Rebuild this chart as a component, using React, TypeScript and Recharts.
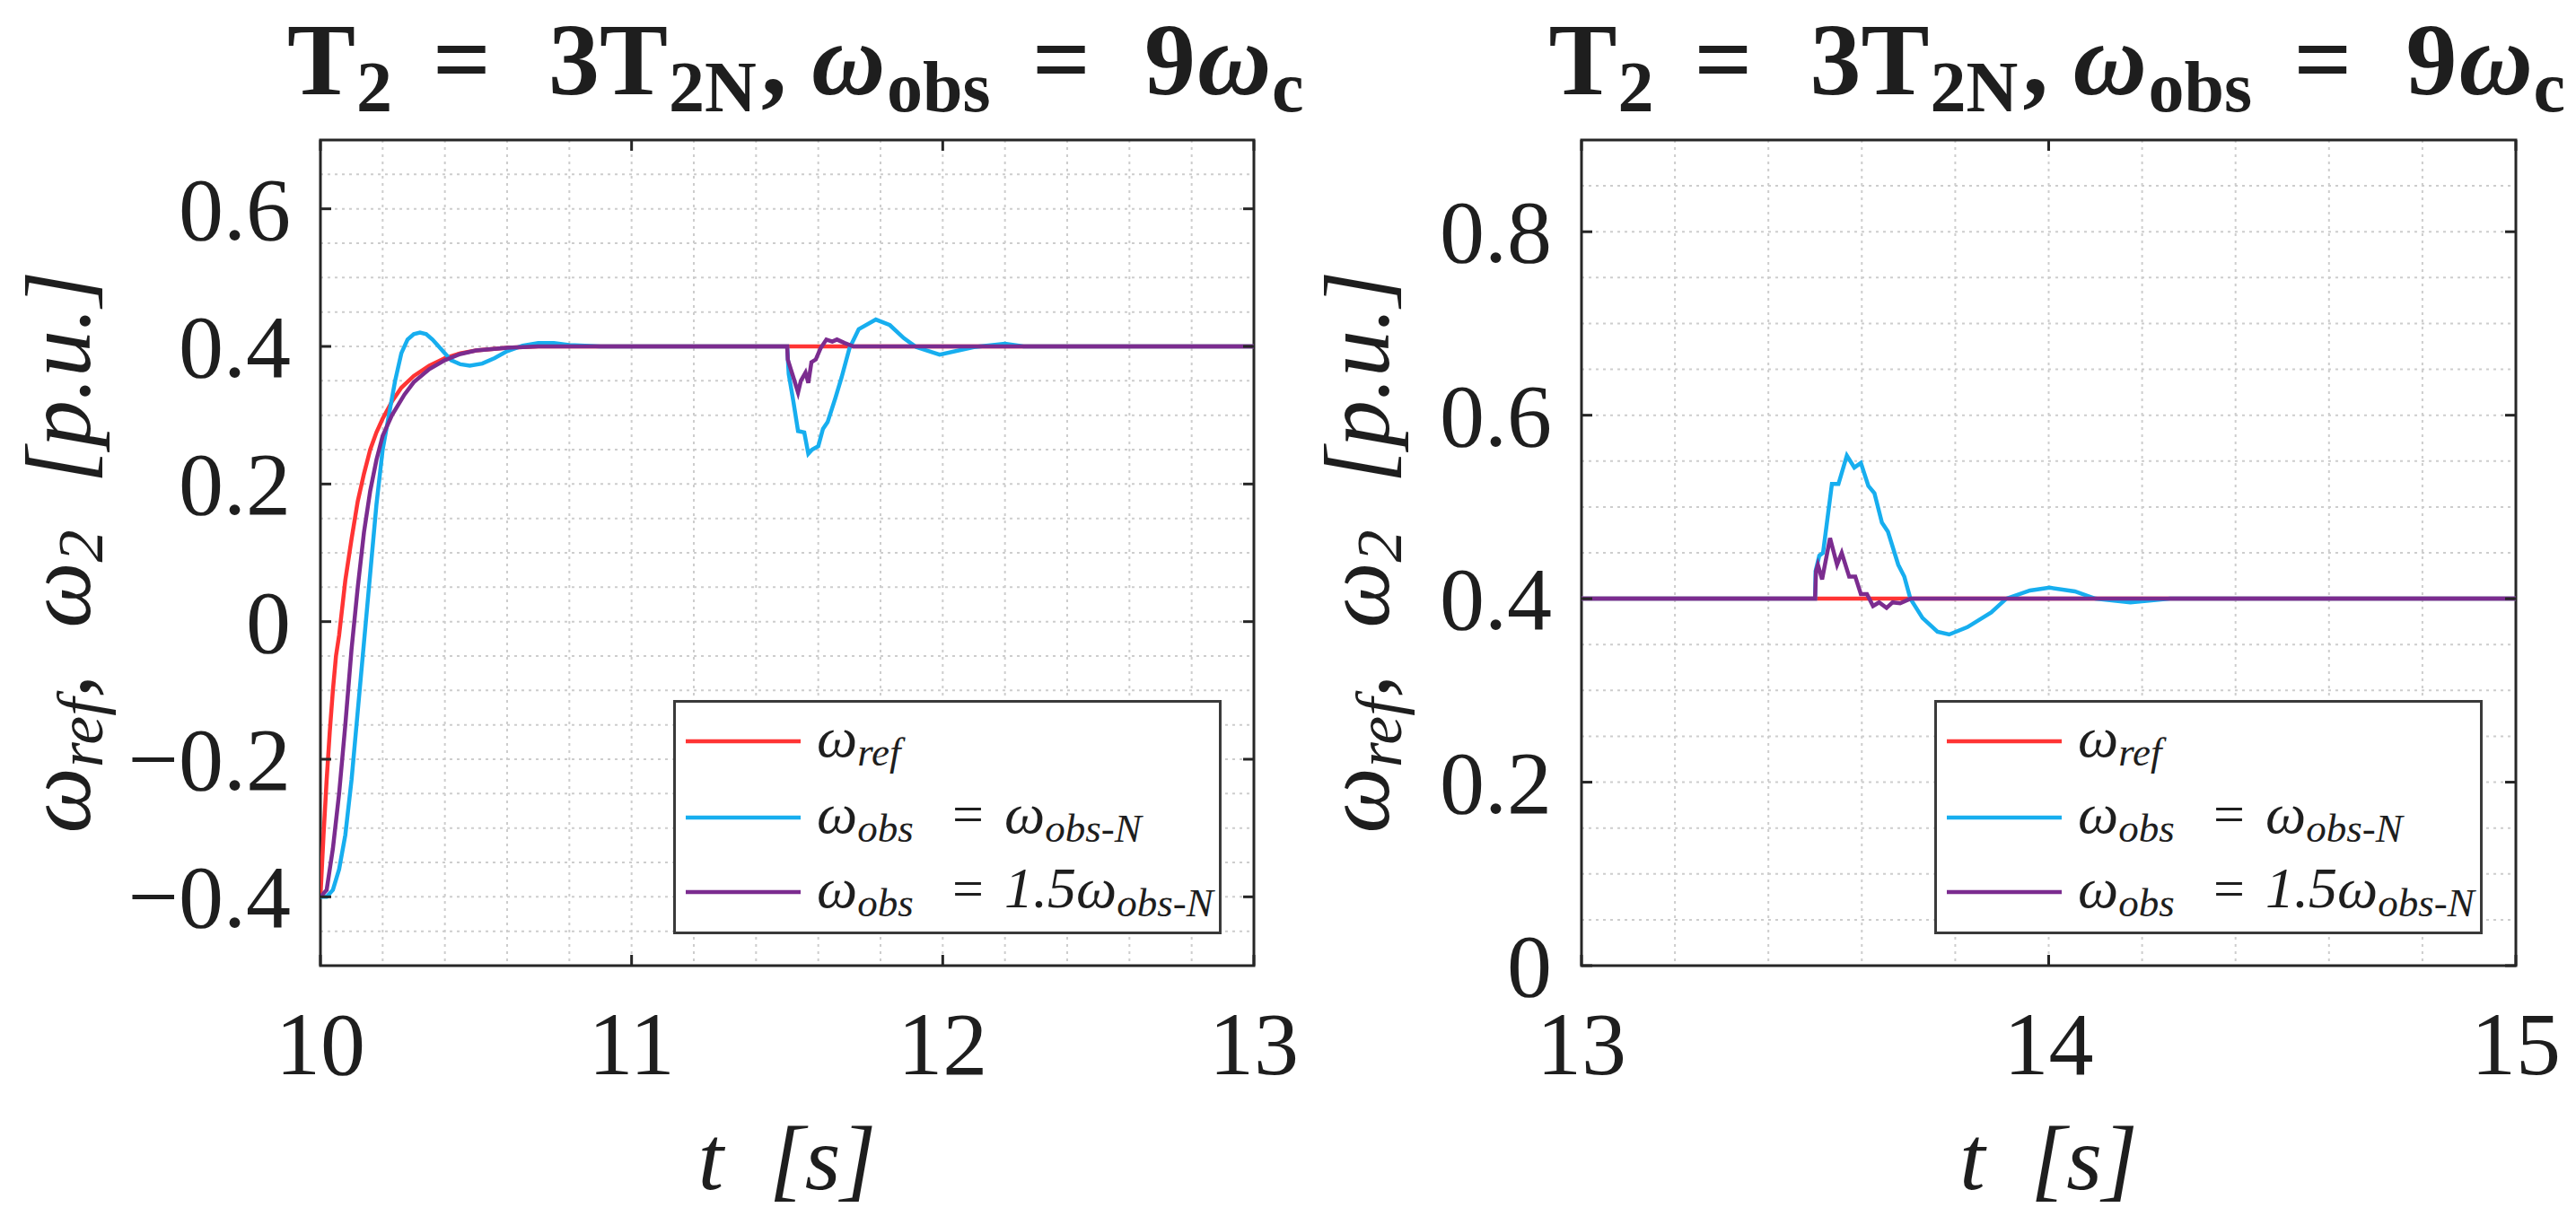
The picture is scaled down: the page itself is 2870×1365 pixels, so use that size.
import React from "react";
import {
  LineChart,
  Line,
  XAxis,
  YAxis,
  CartesianGrid,
  ReferenceArea,
  Legend,
} from "recharts";

// ---------------- data ----------------
const refLeft: [number, number][] = [
  [10, -0.4], [10.01, -0.31], [10.02, -0.23], [10.03, -0.16], [10.04, -0.1],
  [10.05, -0.05], [10.06, -0.02], [10.07, 0.02], [10.08, 0.06], [10.1, 0.12],
  [10.12, 0.175], [10.14, 0.215], [10.16, 0.25], [10.18, 0.275], [10.2, 0.295],
  [10.23, 0.32], [10.26, 0.34], [10.3, 0.357], [10.35, 0.372], [10.4, 0.383],
  [10.45, 0.39], [10.5, 0.394], [10.6, 0.398], [10.7, 0.4], [13, 0.4],
];

const blueLeft: [number, number][] = [
  [10, -0.4], [10.02, -0.4], [10.04, -0.39], [10.06, -0.36], [10.08, -0.31],
  [10.1, -0.23], [10.12, -0.13], [10.14, -0.03], [10.16, 0.07], [10.18, 0.17],
  [10.2, 0.25], [10.22, 0.3], [10.24, 0.35], [10.26, 0.39], [10.28, 0.41],
  [10.3, 0.418], [10.32, 0.42], [10.34, 0.418], [10.36, 0.41], [10.38, 0.4],
  [10.4, 0.39], [10.42, 0.38], [10.45, 0.374], [10.48, 0.372], [10.52, 0.375],
  [10.56, 0.383], [10.6, 0.393], [10.65, 0.401], [10.7, 0.405], [10.75, 0.405],
  [10.8, 0.402], [10.9, 0.4], [11.5, 0.4],
  [11.505, 0.36], [11.52, 0.32], [11.535, 0.277], [11.555, 0.275], [11.568, 0.244],
  [11.58, 0.25], [11.6, 0.255], [11.615, 0.28], [11.63, 0.29], [11.655, 0.325],
  [11.675, 0.355], [11.7, 0.397], [11.73, 0.425], [11.785, 0.439], [11.83, 0.431],
  [11.875, 0.412], [11.915, 0.399], [11.99, 0.388], [12.1, 0.399], [12.2, 0.404],
  [12.26, 0.4], [13, 0.4],
];

const purpleLeft: [number, number][] = [
  [10, -0.4], [10.02, -0.39], [10.03, -0.36], [10.04, -0.33], [10.06, -0.25],
  [10.08, -0.15], [10.1, -0.04], [10.12, 0.05], [10.14, 0.13], [10.16, 0.19],
  [10.18, 0.235], [10.2, 0.27], [10.23, 0.3], [10.27, 0.33], [10.3, 0.348],
  [10.35, 0.367], [10.4, 0.38], [10.45, 0.389], [10.5, 0.394], [10.6, 0.398],
  [10.7, 0.4], [11.5, 0.4],
  [11.502, 0.381], [11.52, 0.355], [11.535, 0.333], [11.544, 0.35], [11.559, 0.362],
  [11.568, 0.347], [11.578, 0.377], [11.592, 0.381], [11.607, 0.397], [11.626, 0.41],
  [11.645, 0.407], [11.66, 0.41], [11.684, 0.405], [11.713, 0.4], [13, 0.4],
];

const refRight: [number, number][] = [[13, 0.4], [15, 0.4]];

const blueRight: [number, number][] = [
  [13, 0.4], [13.5, 0.4], [13.501, 0.43], [13.509, 0.447], [13.517, 0.45],
  [13.536, 0.525], [13.55, 0.525], [13.568, 0.556], [13.584, 0.543], [13.598, 0.548],
  [13.614, 0.523], [13.627, 0.515], [13.643, 0.483], [13.656, 0.473], [13.678, 0.437],
  [13.691, 0.424], [13.704, 0.4], [13.73, 0.379], [13.762, 0.364], [13.787, 0.361],
  [13.826, 0.369], [13.877, 0.385], [13.909, 0.4], [13.96, 0.409], [14.002, 0.412],
  [14.056, 0.408], [14.1, 0.4], [14.175, 0.396], [14.26, 0.4], [15, 0.4],
];

const purpleRight: [number, number][] = [
  [13, 0.4], [13.5, 0.4], [13.502, 0.43], [13.506, 0.437], [13.515, 0.421],
  [13.532, 0.466], [13.547, 0.437], [13.557, 0.45], [13.573, 0.424], [13.586, 0.424],
  [13.598, 0.405], [13.611, 0.405], [13.624, 0.392], [13.637, 0.396], [13.653, 0.39],
  [13.666, 0.396], [13.682, 0.395], [13.704, 0.4], [15, 0.4],
];

// ---------------- ticks ----------------
const leftXGrid = [10, 10.2, 10.4, 10.6, 10.8, 11, 11.2, 11.4, 11.6, 11.8, 12, 12.2, 12.4, 12.6, 12.8, 13];
const leftXMajor = [10, 11, 12, 13];
const leftXLabels = ["10", "11", "12", "13"];
const leftYGrid = [
  -0.5, -0.45, -0.4, -0.35, -0.3, -0.25, -0.2, -0.15, -0.1, -0.05, 0, 0.05, 0.1,
  0.15, 0.2, 0.25, 0.3, 0.35, 0.4, 0.45, 0.5, 0.55, 0.6, 0.65, 0.7,
];
const leftYMajor = [-0.4, -0.2, 0, 0.2, 0.4, 0.6];
const leftYLabels = ["\u22120.4", "\u22120.2", "0", "0.2", "0.4", "0.6"];

const rightXGrid = [13, 13.2, 13.4, 13.6, 13.8, 14, 14.2, 14.4, 14.6, 14.8, 15];
const rightXMajor = [13, 14, 15];
const rightXLabels = ["13", "14", "15"];
const rightYGrid = [
  0, 0.05, 0.1, 0.15, 0.2, 0.25, 0.3, 0.35, 0.4, 0.45, 0.5, 0.55, 0.6, 0.65, 0.7,
  0.75, 0.8, 0.85, 0.9,
];
const rightYMajor = [0, 0.2, 0.4, 0.6, 0.8];
const rightYLabels = ["0", "0.2", "0.4", "0.6", "0.8"];

const seriesNames = ["ref", "obsN", "obs15"];
const seriesColors = ["#FF3434", "#17AEEF", "#7B2C8F"];

// ---------------- styling constants ----------------
const FONT = "Liberation Serif, Times New Roman, Times, serif";
const TEXT = "#1e1e1e";
const FRAME = "#262626";

const toPts = (arr: [number, number][]) => arr.map(([t, v]) => ({ t, v }));
const findIdx = (vals: number[], v: number) => vals.findIndex((m) => Math.abs(m - v) < 1e-9);

function LegendBox(props: any) {
  const payload = (props.payload || []) as any[];
  const ordered = seriesNames
    .map((n) => payload.find((q: any) => q.value === n))
    .filter(Boolean) as any[];
  const rows = [46, 131, 214];
  return (
    <svg width={611} height={261} style={{ display: "block" }}>
      <rect x={1.5} y={1.5} width={608} height={258} fill="#fff" stroke="#3a3a3a" strokeWidth={3} />
      {ordered.map((p: any, i: number) => {
        const y = rows[i];
        const key = p.value;
        return (
          <g key={key}>
            <line x1={14} x2={142} y1={y} y2={y} stroke={p.color} strokeWidth={4.5} />
            <text x={160} y={y + 17} fontFamily={FONT} fontStyle="italic" fontSize={64} fill={TEXT}>
              <tspan>ω</tspan>
              <tspan fontSize={45} dy={10}>{key === "ref" ? "ref" : "obs"}</tspan>
            </text>
            {key !== "ref" && (
              <>
                <text x={311} y={y + 17} fontFamily={FONT} fontSize={62} fill={TEXT}>
                  =
                </text>
                <text x={369} y={y + 17} fontFamily={FONT} fontStyle="italic" fontSize={64} fill={TEXT}>
                  <tspan>{key === "obs15" ? "1.5ω" : "ω"}</tspan>
                  <tspan fontSize={45} dy={10}>obs-N</tspan>
                </text>
              </>
            )}
          </g>
        );
      })}
    </svg>
  );
}

type PanelProps = {
  left: number;
  width: number;
  plotLeft: number;
  plotRight: number;
  xDomain: [number, number];
  yDomain: [number, number];
  xGrid: number[];
  yGrid: number[];
  xMajor: number[];
  xLabels: string[];
  yMajor: number[];
  yLabels: string[];
  refData: [number, number][];
  blueData: [number, number][];
  purpleData: [number, number][];
  legendLeft: number;
  yLabelX: number;
};

const H = 1365;
const PLOT_TOP = 156;
const PLOT_BOTTOM = 1076;
const XAXIS_H = 100;
const YAXIS_W = 100;

function Title({ x0 }: { x0: number }) {
  const base = 105;
  const sub = 124;
  const big = 114;
  const small = 80;
  const common = { fontFamily: FONT, fontWeight: "bold" as const, fill: TEXT };
  return (
    <text {...common} fontSize={big}>
      <tspan x={x0} y={base}>T</tspan>
      <tspan x={x0 + 77} y={sub} fontSize={small}>2</tspan>
      <tspan x={x0 + 162} y={base}>=</tspan>
      <tspan x={x0 + 291} y={base}>3T</tspan>
      <tspan x={x0 + 425} y={sub} fontSize={small}>2N</tspan>
      <tspan x={x0 + 528} y={base}>,</tspan>
      <tspan x={x0 + 584} y={base} fontStyle="italic">ω</tspan>
      <tspan x={x0 + 668} y={sub} fontSize={small}>obs</tspan>
      <tspan x={x0 + 830} y={base}>=</tspan>
      <tspan x={x0 + 955} y={base}>9</tspan>
      <tspan x={x0 + 1014} y={base} fontStyle="italic">ω</tspan>
      <tspan x={x0 + 1097} y={sub} fontSize={small}>c</tspan>
    </text>
  );
}

function Panel(p: PanelProps) {
  const cx = (p.plotLeft + p.plotRight) / 2;
  const XTick = (props: any) => {
    const { x, payload } = props;
    const idx = findIdx(p.xMajor, payload.value);
    if (idx < 0) return <g />;
    return (
      <g>
        <text x={x} y={PLOT_BOTTOM + 121} textAnchor="middle" fontFamily={FONT} fontSize={100} fill={TEXT}>
          {p.xLabels[idx]}
        </text>
        <line x1={x} x2={x} y1={PLOT_BOTTOM - 12} y2={PLOT_BOTTOM} stroke={FRAME} strokeWidth={3} />
        <line x1={x} x2={x} y1={PLOT_TOP} y2={PLOT_TOP + 12} stroke={FRAME} strokeWidth={3} />
      </g>
    );
  };
  const YTick = (props: any) => {
    const { y, payload } = props;
    const idx = findIdx(p.yMajor, payload.value);
    if (idx < 0) return <g />;
    return (
      <g>
        <text x={p.plotLeft - 33} y={y + 34} textAnchor="end" fontFamily={FONT} fontSize={100} fill={TEXT}>
          {p.yLabels[idx]}
        </text>
        <line x1={p.plotLeft} x2={p.plotLeft + 12} y1={y} y2={y} stroke={FRAME} strokeWidth={3} />
        <line x1={p.plotRight - 12} x2={p.plotRight} y1={y} y2={y} stroke={FRAME} strokeWidth={3} />
      </g>
    );
  };

  const datasets = [p.refData, p.blueData, p.purpleData];

  return (
    <div style={{ position: "absolute", left: p.left, top: 0, width: p.width, height: H }}>
      <LineChart
        width={p.width}
        height={H}
        margin={{
          top: PLOT_TOP,
          right: p.width - p.plotRight,
          bottom: H - PLOT_BOTTOM - XAXIS_H,
          left: p.plotLeft - YAXIS_W,
        }}
      >
        <CartesianGrid stroke="#cdcdcd" strokeDasharray="3 5" strokeWidth={2} />
        <XAxis
          type="number"
          dataKey="t"
          domain={p.xDomain}
          ticks={p.xGrid}
          interval={0}
          allowDataOverflow
          height={XAXIS_H}
          axisLine={false}
          tickLine={false}
          tick={<XTick />}
        />
        <YAxis
          type="number"
          dataKey="v"
          domain={p.yDomain}
          ticks={p.yGrid}
          interval={0}
          allowDataOverflow
          width={YAXIS_W}
          axisLine={false}
          tickLine={false}
          tick={<YTick />}
        />
        {datasets.map((d, i) => (
          <Line
            key={seriesNames[i]}
            data={toPts(d)}
            dataKey="v"
            name={seriesNames[i]}
            type="linear"
            stroke={seriesColors[i]}
            strokeWidth={4.5}
            dot={false}
            activeDot={false}
            isAnimationActive={false}
          />
        ))}
        <ReferenceArea
          x1={p.xDomain[0]}
          x2={p.xDomain[1]}
          y1={p.yDomain[0]}
          y2={p.yDomain[1]}
          fill="none"
          fillOpacity={0}
          stroke={FRAME}
          strokeWidth={3}
        />
        <Legend
          layout="vertical"
          align="center"
          verticalAlign="middle"
          content={<LegendBox />}
          wrapperStyle={{ left: p.legendLeft, top: 780, width: 611, height: 261 }}
        />
        <Title x0={cx - 557} />
        <text
          x={cx}
          y={1325}
          textAnchor="middle"
          fontFamily={FONT}
          fontStyle="italic"
          fontSize={102}
          fill={TEXT}
          style={{ whiteSpace: "pre" }}
        >
          t  [s]
        </text>
        <text
          transform={`translate(${p.yLabelX},615) rotate(-90)`}
          textAnchor="middle"
          fontFamily={FONT}
          fontStyle="italic"
          fontSize={104}
          fill={TEXT}
          style={{ whiteSpace: "pre" }}
        >
          <tspan>ω</tspan>
          <tspan fontSize={72} dy={14}>ref</tspan>
          <tspan dy={-14}>,  ω</tspan>
          <tspan fontSize={72} dy={14}>2</tspan>
          <tspan dy={-14}>  [p.u.]</tspan>
        </text>
      </LineChart>
    </div>
  );
}

export default function App() {
  return (
    <div style={{ position: "absolute", left: 0, top: 0, width: 2870, height: 1365, background: "#fff" }}>
      <Panel
        left={0}
        width={1480}
        plotLeft={357}
        plotRight={1397}
        xDomain={[10, 13]}
        yDomain={[-0.5, 0.7]}
        xGrid={leftXGrid}
        yGrid={leftYGrid}
        xMajor={leftXMajor}
        xLabels={leftXLabels}
        yMajor={leftYMajor}
        yLabels={leftYLabels}
        refData={refLeft}
        blueData={blueLeft}
        purpleData={purpleLeft}
        legendLeft={750}
        yLabelX={100}
      />
      <Panel
        left={1435}
        width={1435}
        plotLeft={327}
        plotRight={1368}
        xDomain={[13, 15]}
        yDomain={[0, 0.9]}
        xGrid={rightXGrid}
        yGrid={rightYGrid}
        xMajor={rightXMajor}
        xLabels={rightXLabels}
        yMajor={rightYMajor}
        yLabels={rightYLabels}
        refData={refRight}
        blueData={blueRight}
        purpleData={purpleRight}
        legendLeft={720}
        yLabelX={112}
      />
    </div>
  );
}
